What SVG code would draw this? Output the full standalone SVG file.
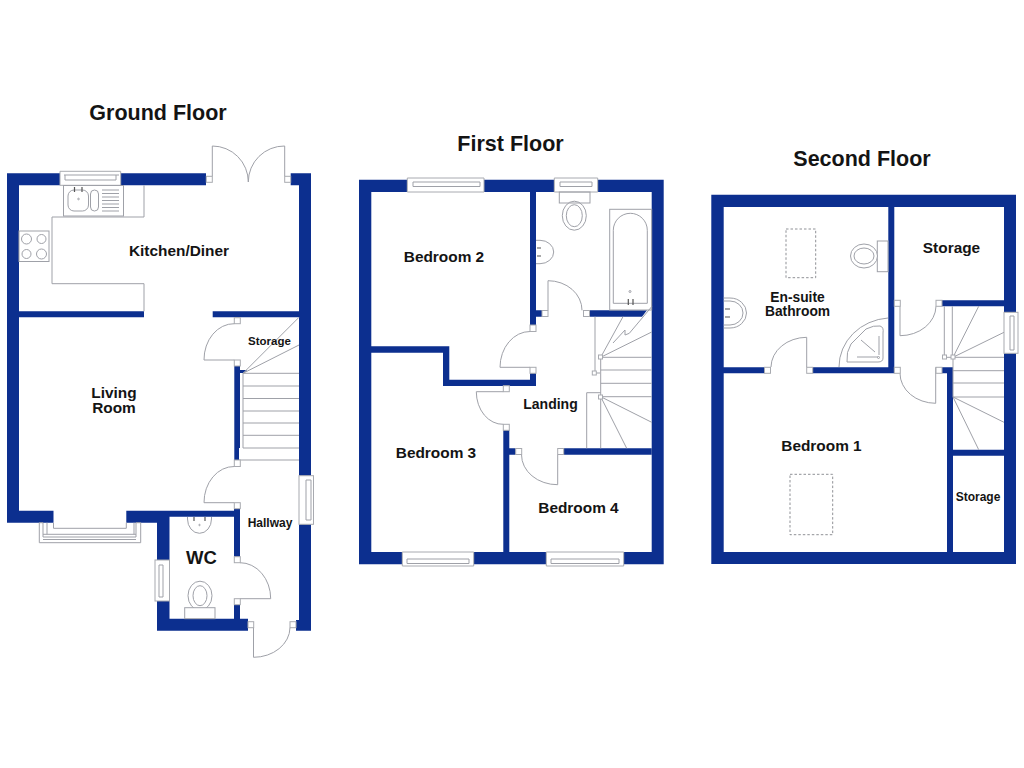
<svg xmlns="http://www.w3.org/2000/svg" width="1024" height="768" viewBox="0 0 1024 768">
<style>
.w{fill:#0c2f8f;stroke:none}
.l{fill:none;stroke:#9fa1a8;stroke-width:1}
.b{fill:#fff;stroke:#a8aab0;stroke-width:1}
.d{fill:none;stroke:#8f9196;stroke-width:1;stroke-dasharray:2.5 2}
.k{fill:none;stroke:#555;stroke-width:1.2}
text{font-family:"Liberation Sans",Arial,sans-serif;font-weight:700;fill:#141414;text-anchor:middle}
.t{font-size:21.5px}
.r{font-size:15.4px}
.s{font-size:11.5px}
</style>
<rect width="1024" height="768" fill="#fff"/>
<g id="ground-floor">
<path class="w" d="M7 173.300H60V185.300H19V311.300H144V317.300H19V510.700H53.500V522.700H7Z"/>
<path class="w" d="M120.500 173.300H206V185.300H120.500Z"/>
<path class="w" d="M290.700 173.300H311V475.700H299V185.300H290.700Z"/>
<path class="w" d="M212.700 311.300H299V317.300H212.700Z"/>
<path class="w" d="M299 524.300H311V630.700H296V620H299Z"/>
<path class="w" d="M126.300 510.700H234V508.700H240V556.700H234V516.700H169.500V560H157V522.700H126.300Z"/>
<path class="w" d="M157 601H169.500V618.700H234V604.700H240V618.700H248V630.700H157Z"/>
<path class="w" d="M234.300 366H240V370H247L244 373H240V448H239V460H234.300Z"/>
<g class="l">
<path class="b" d="M60 171.300H120.700V185.300H60Z"/>
<path d="M64 175H119M65 180H116M65 175V180M116 175V180"/>
<rect x="63.500" y="185.500" width="60" height="30.500"/>
<rect x="68" y="190" width="20.500" height="21" rx="6"/>
<rect x="90.500" y="190" width="8" height="21" rx="4"/>
<path d="M102 190H119M102 193.500H119M102 197H119M102 200.500H119M102 204H119M102 207.500H119M102 211H119"/>
<circle cx="78.500" cy="199" r="0.800"/>
<path class="k" d="M74.500 187V192M82 187V192"/>
<path d="M144 185.300V217H52V283.700H144V311.300"/>
<rect x="19" y="231" width="30" height="30.500"/>
<circle cx="26.500" cy="239" r="5"/><circle cx="41.500" cy="239" r="4.500"/><circle cx="26.500" cy="254" r="4.500"/><circle cx="41.500" cy="254" r="5"/>
<path d="M212.300 176.300V146A36 36 0 0 1 248.300 182"/>
<path d="M284.700 176.300V146A36 36 0 0 0 248.300 182"/>
<rect class="b" x="206.300" y="176.300" width="6" height="6"/>
<rect class="b" x="284.700" y="176.300" width="6" height="6"/>
<path d="M234.300 323.700A30 36 0 0 0 204 360H234.300"/>
<rect class="b" x="234.300" y="317.700" width="6" height="6"/>
<rect class="b" x="234.300" y="360" width="6" height="6"/>
<path d="M243 373.300H299M243 386H299M243 398.500H299M243 411H299M243 423H299M243 435.300H299M243 448H299M239 460H299M243 373.300V448M243 373.300L299 345M243 373.300L299 317.300"/>
<path d="M234.300 466.500A30 36 0 0 0 204 502.700H234.300"/>
<rect class="b" x="234.300" y="460" width="6" height="6.500"/>
<rect class="b" x="234.300" y="502.700" width="6" height="6"/>
<path d="M240 562.700A30.700 36 0 0 1 270.700 598.700H240"/>
<rect class="b" x="234.300" y="556.700" width="6" height="6"/>
<rect class="b" x="234.300" y="598.700" width="6" height="6"/>
<path d="M253.500 627.700V657.300A36.500 30 0 0 0 290 627.700"/>
<rect class="b" x="248" y="621.700" width="5.700" height="6"/>
<rect class="b" x="290" y="621.700" width="6" height="6"/>
<rect class="b" x="299" y="475.700" width="14.500" height="48.600"/>
<path d="M306 480V520M311 480V520M306 480H311M306 520H311"/>
<rect class="b" x="155" y="560" width="14.500" height="41"/>
<path d="M159 565V597M163 565V597M159 565H163M159 597H163"/>
<path d="M187.500 517V519A12 14.300 0 0 0 211.500 519V517"/>
<circle cx="199.500" cy="525" r="0.700"/>
<path class="k" d="M194 517V521M205 517V521"/>
<ellipse cx="200" cy="595.700" rx="12" ry="14.500" fill="#fff"/>
<ellipse cx="200" cy="595.700" rx="7" ry="10"/>
<rect x="184.700" y="607.700" width="30.300" height="11" fill="#fff"/>
<path d="M53.500 522.700V528.300H126.300V522.700"/>
<path d="M39.300 522.700H43V537H136V522.700H140.700V542.700H39.300ZM43 534.300H136M43 539.500H136M47 522.700V534.300M134 522.700V534.300"/>
</g>
<text class="t" x="158" y="119.500">Ground Floor</text>
<text class="r" x="179" y="256">Kitchen/Diner</text>
<text class="r" x="114" y="398">Living</text>
<text class="r" x="114" y="413">Room</text>
<text class="s" x="269.500" y="345">Storage</text>
<text class="s" x="270" y="527" style="font-size:12px">Hallway</text>
<text style="font-size:18.500px" x="201.500" y="564">WC</text>
</g>
<g id="first-floor">
<path class="w" d="M359 179.700H407.300V192H371.300V346.300H443V352.700H371.300V552H402.300V564.300H359Z"/>
<path class="w" d="M484 179.700H554.300V192H484Z"/>
<path class="w" d="M597.700 179.700H663.700V564.300H623.700V552H651.700V192H597.700Z"/>
<path class="w" d="M473.700 552H503.300V430H509.300V448.300H515.700V454.700H509.300V552H546.300V564.300H473.700Z"/>
<path class="w" d="M530 192H536V310.300H542V316.700H536V325H530Z"/>
<path class="w" d="M590 310.300H647L642 316.700H590Z"/>
<path class="w" d="M443 346.300H449.300V379.700H530V373H536V386H443Z"/>
<path class="w" d="M563.700 448.300H651.700V454.700H563.700Z"/>
<g class="l">
<path class="b" d="M407.300 178H484V192H407.300Z"/>
<path d="M413 182H480M413 186.500H480M413 182V186.500M480 182V186.500"/>
<path class="b" d="M554.300 178H597.700V192H554.300Z"/>
<path d="M560 182H592M560 186.500H592M560 182V186.500M592 182V186.500"/>
<path class="b" d="M402.300 552H473.700V566H402.300Z"/>
<path d="M407 559H469M407 563.500H469M407 559V563.500M469 559V563.500"/>
<path class="b" d="M546.300 552H623.700V566H546.300Z"/>
<path d="M551 559H619M551 563.500H619M551 559V563.500M619 559V563.500"/>
<rect x="559.300" y="192" width="30.700" height="11"/>
<ellipse cx="574.300" cy="215.700" rx="12" ry="14.500"/>
<ellipse cx="574.300" cy="215.700" rx="8" ry="11"/>
<rect x="609.700" y="209.300" width="42" height="100.700"/>
<path d="M613.300 303.300V230.300A17 17 0 0 1 647.300 230.300V303.300Z"/>
<circle cx="630" cy="291.500" r="1"/>
<path class="k" d="M628.300 299V305M633 299V305"/>
<path d="M536 240.300H540A13.700 11.700 0 0 1 540 263.700H536"/>
<path class="k" d="M537 248H541M537 256H541"/>
<path d="M548 310.300V280.700A34 29.500 0 0 1 582 310.300"/>
<rect class="b" x="542" y="310.500" width="6" height="6"/>
<rect class="b" x="583.500" y="310.500" width="6" height="6"/>
<path d="M530 331.500A30 36 0 0 0 500 367.300H530"/>
<rect class="b" x="530" y="325" width="6" height="6.500"/>
<rect class="b" x="530" y="367.300" width="6" height="6"/>
<path d="M503.300 391.700H476.300A26.500 32.600 0 0 0 503.300 424.300"/>
<rect class="b" x="503.300" y="385.700" width="6" height="6"/>
<rect class="b" x="503.300" y="424.300" width="6" height="6"/>
<path d="M521.500 454.700A36 30 0 0 0 557.700 484.700V454.700"/>
<rect class="b" x="515.700" y="448.500" width="6" height="6"/>
<rect class="b" x="557.700" y="448.500" width="6" height="6"/>
<path d="M595 316.700V373M600.700 357.300H651.700M600.700 370H651.700M600.700 383.300H651.700M600.700 396.700H651.700M600.700 357.300V448.300M600.700 357.300L623 316.700M600.700 357.300L651.700 332M600.700 396.700L651.700 422.300M600.700 396.700L626.700 448.300M586.700 392.700H600.700M586.700 392.700V448.300M594 373H600"/>
<path d="M613 343L625 330V335L629.300 333.300L651.700 306.700"/>
<rect class="b" x="598.500" y="355" width="4" height="4"/>
<rect class="b" x="592.300" y="371" width="4" height="4"/>
<rect class="b" x="598.500" y="395" width="4" height="4"/>
</g>
<text class="t" x="510.500" y="150.500">First Floor</text>
<text class="r" x="444" y="262">Bedroom 2</text>
<text class="r" x="436" y="457.500">Bedroom 3</text>
<text class="r" x="578.500" y="513">Bedroom 4</text>
<text class="s" x="550.500" y="409" style="font-size:14px">Landing</text>
</g>
<g id="second-floor">
<path class="w" d="M711.300 194.700H1016V312.300H1004V207H723.700V367.300H764.300V373.300H723.700V552H947V373.300H942V367.300H953V552H1004V455.700H953V449.700H1004V353.300H1016V564H711.300Z"/>
<path class="w" d="M888.300 207H894.300V373.300H812.700V367.300H888.300Z"/>
<path class="w" d="M942 300.300H1004V306.300H942Z"/>
<g class="l">
<rect class="d" x="786" y="229" width="29.700" height="48.700"/>
<rect class="d" x="790" y="474.300" width="42.700" height="60.400"/>
<rect x="877.300" y="241" width="10.700" height="30.700"/>
<ellipse cx="864" cy="256" rx="13.500" ry="12" fill="#fff"/>
<ellipse cx="864" cy="256" rx="10" ry="8"/>
<path d="M723.700 298H730A16.500 15 0 0 1 730 328H723.700"/>
<path d="M723.700 301H730A13 12 0 0 1 730 325H723.700"/>
<path class="k" d="M725 309H730M725 317H730"/>
<path d="M839 367A53 49 0 0 1 888 318"/>
<path d="M847 362Q846 352 851 344L866 329Q874 325 880 326Q884 327 883 333V358Q883 362 878 362Z"/>
<path d="M861 340L875 352M857 357H878M879 336V355"/>
<circle cx="878.500" cy="357.500" r="1"/>
<path d="M771 367A36 30 0 0 1 806.700 337.300V367.300"/>
<rect class="b" x="764.500" y="367.300" width="6" height="6"/>
<rect class="b" x="806.700" y="367.300" width="6" height="6"/>
<path d="M900 306.300V335.700A36 30 0 0 0 936 306.300"/>
<rect class="b" x="894.300" y="300.300" width="6" height="6"/>
<rect class="b" x="936" y="300.300" width="6" height="6"/>
<path d="M900 373.300A36 30 0 0 0 935.700 403.300V367.300"/>
<rect class="b" x="894.300" y="367.300" width="6" height="6"/>
<rect class="b" x="936" y="367.300" width="6" height="6"/>
<path d="M944.300 306.300V357.300H953M952.300 306.300V357.300M953 357.300H1004M953 370.700H1004M953 383H1004M953 397H1004M953 357.300V397M953 357.300L978.700 306.300M953 357.300L1004 332.300M953 397L1004 422.300M953 397L978.700 449.700"/>
<rect class="b" x="942.500" y="355" width="4" height="4"/>
<rect class="b" x="951" y="355" width="4" height="4"/>
<rect class="b" x="1004" y="312.300" width="14" height="41"/>
<path d="M1010 316V350M1014 316V350M1010 316H1014M1010 350H1014"/>
</g>
<text class="t" x="862" y="166">Second Floor</text>
<text class="s" x="797.500" y="301.500" style="font-size:13.800px">En-suite</text>
<text class="s" x="797.500" y="315.500" style="font-size:13.800px">Bathroom</text>
<text class="r" x="951.500" y="253">Storage</text>
<text class="r" x="821.500" y="451">Bedroom 1</text>
<text class="s" x="978" y="501" style="font-size:12px">Storage</text>
</g>
</svg>
